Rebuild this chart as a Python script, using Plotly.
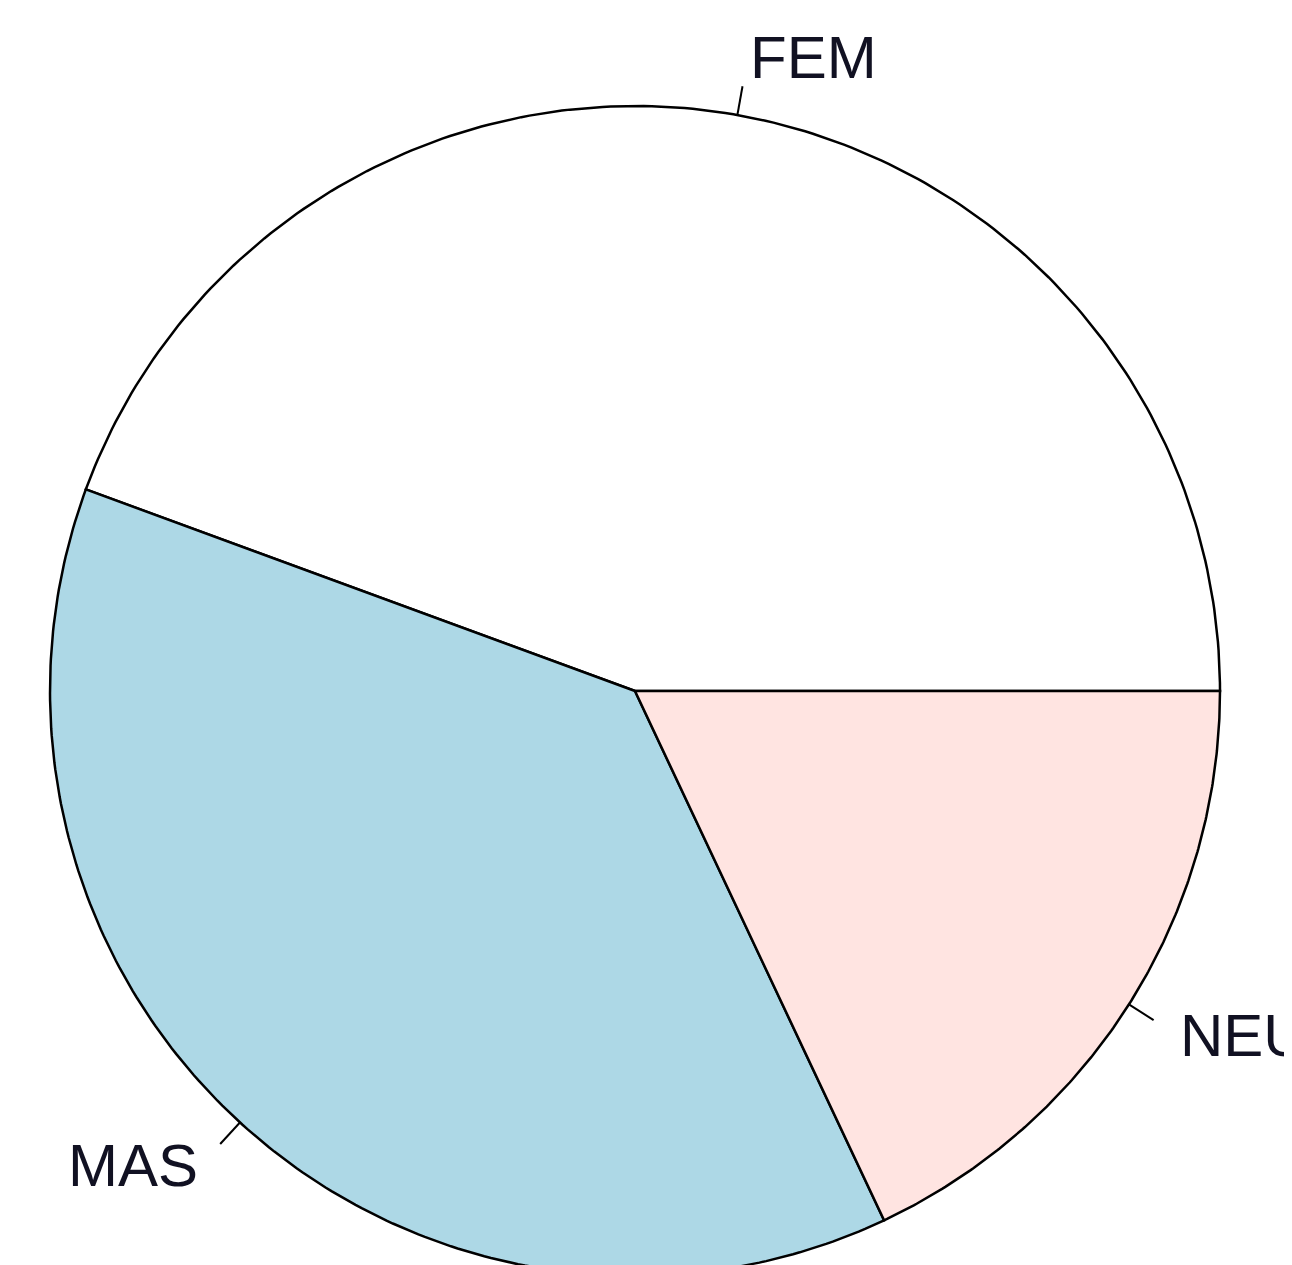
import numpy as np
import plotly.graph_objects as go

# slice data (R base pie: counter-clockwise from 3 o'clock)
labels = ["FEM", "MAS", "NEU"]
values = [44.4, 37.6, 18.0]
colors = ["white", "#ADD8E6", "#FFE4E1"]

W, H = 1292, 1265
# page body has an 8px margin, so the centre is set 8px up-left of the target
cx_px, cy_px, r_px = 627, 683, 585

fig = go.Figure()

fracs = np.array(values) / sum(values)
edges = np.concatenate([[0], np.cumsum(fracs)]) * 2 * np.pi

for i, lab in enumerate(labels):
    t = np.linspace(edges[i], edges[i + 1], 200)
    xs = np.concatenate([[0], np.cos(t), [0]])
    ys = np.concatenate([[0], np.sin(t), [0]])
    fig.add_trace(go.Scatter(x=xs, y=ys, mode="lines", fill="toself",
                             fillcolor=colors[i],
                             line=dict(color="black", width=2.5),
                             hoverinfo="skip", showlegend=False))
    mid = (edges[i] + edges[i + 1]) / 2
    px, py = np.cos(mid), np.sin(mid)
    # tick from radius 1 to 1.05, label at 1.1
    fig.add_trace(go.Scatter(x=[px, 1.05 * px], y=[py, 1.05 * py], mode="lines",
                             line=dict(color="black", width=2),
                             hoverinfo="skip", showlegend=False))
    fig.add_annotation(x=1.1 * px, y=1.1 * py, text=lab, showarrow=False,
                       xanchor="right" if px < 0 else "left", yanchor="middle",
                       font=dict(family="Liberation Sans, Arial", size=60, color="#111122"))

fig.update_xaxes(range=[-cx_px / r_px, (W - cx_px) / r_px], visible=False)
fig.update_yaxes(range=[-(H - cy_px) / r_px, cy_px / r_px], visible=False)
fig.update_layout(width=W, height=H, margin=dict(l=0, r=0, t=0, b=0),
                  plot_bgcolor="white", paper_bgcolor="white")

fig.write_html("out.html")
